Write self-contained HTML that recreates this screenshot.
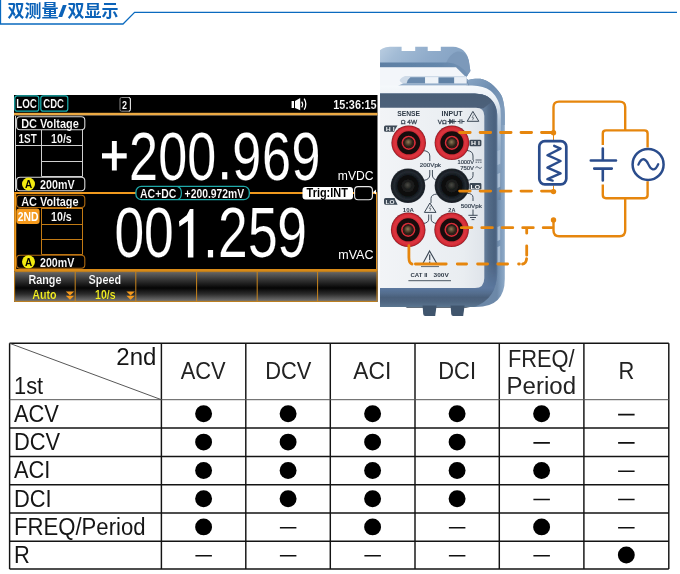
<!DOCTYPE html>
<html lang="zh">
<head>
<meta charset="utf-8">
<title>双测量/双显示</title>
<style>
html,body{margin:0;padding:0;background:#fff;}
body{width:680px;height:574px;position:relative;overflow:hidden;font-family:"Liberation Sans",sans-serif;}
svg text{font-family:"Liberation Sans",sans-serif;}
#top{position:absolute;left:0;top:0;will-change:transform;}
h1{position:absolute;left:8px;top:2px;margin:0;font-size:17px;line-height:20px;color:transparent;font-weight:bold;white-space:nowrap;width:110px;height:20px;overflow:hidden;}
</style>
</head>
<body>
<h1>双测量/双显示</h1>
<svg id="top" width="680" height="335" viewBox="0 0 680 335">
<!-- header -->
<g id="hdr">
<path d="M0.5 0 V24 H123 L134.6 12.4 H677" fill="none" stroke="#0a6abf" stroke-width="1.3"/>
<g fill="#0b62b8">
<text x="7.5" y="16.6" font-size="17" font-weight="bold" fill="#0b62b8" style="font-family:'Liberation Sans','Noto Sans CJK SC',sans-serif">双测量</text>
<text x="58" y="16.6" font-size="17" font-weight="bold" fill="#0b62b8" textLength="9" lengthAdjust="spacingAndGlyphs" style="font-family:'Liberation Sans','Noto Sans CJK SC',sans-serif">/</text>
<text x="67.5" y="16.6" font-size="17" font-weight="bold" fill="#0b62b8" style="font-family:'Liberation Sans','Noto Sans CJK SC',sans-serif">双显示</text>
</g>
</g>
<!-- LCD screen -->
<defs>
<linearGradient id="sk" x1="0" y1="0" x2="0" y2="1">
<stop offset="0" stop-color="#6a6a6a"/><stop offset="0.25" stop-color="#3a3a3a"/><stop offset="0.55" stop-color="#050505"/><stop offset="0.75" stop-color="#2c2c2c"/><stop offset="1" stop-color="#7a7a7a"/>
</linearGradient>
</defs>
<g id="lcd">
<rect x="14" y="95" width="363.5" height="207" fill="#000"/>
<!-- status bar -->
<rect x="14.8" y="95.8" width="24" height="15.4" rx="2.5" fill="none" stroke="#19b3b3" stroke-width="1.2"/>
<rect x="40.8" y="95.8" width="27" height="15.4" rx="2.5" fill="none" stroke="#19b3b3" stroke-width="1.2"/>
<text x="16.2" y="107.9" font-size="13" font-weight="bold" stroke="#000" stroke-width="0.12" fill="#fff" textLength="20.8" lengthAdjust="spacingAndGlyphs">LOC</text>
<text x="43.3" y="107.9" font-size="13" font-weight="bold" stroke="#000" stroke-width="0.12" fill="#fff" textLength="20.6" lengthAdjust="spacingAndGlyphs">CDC</text>
<rect x="120" y="97.5" width="10.4" height="13.7" rx="1.5" fill="none" stroke="#8a8a8a" stroke-width="1"/>
<path d="M128.6 97.6 Q130.4 97.6 130.4 99 V109.5 Q130.4 111.2 128.8 111.2" fill="none" stroke="#e8e8e8" stroke-width="1"/>
<text x="121.9" y="109.1" font-size="11" font-weight="bold" stroke="#000" stroke-width="0.12" fill="#fff" textLength="5" lengthAdjust="spacingAndGlyphs">2</text>
<!-- speaker -->
<g fill="#fff" stroke="none">
<path d="M291.6 100.9 H294 V107.9 H291.6 Z M295 100.9 L300.2 97.9 V110.2 L295 107.9 Z"/>
</g>
<path d="M301.7 101.6 Q303.6 104.4 301.7 107.4" fill="none" stroke="#fff" stroke-width="1.2"/>
<path d="M304.2 98.6 Q307.4 104.2 304.2 109.6" fill="none" stroke="#fff" stroke-width="1.3"/>
<text x="333.2" y="109.4" font-size="13" font-weight="bold" stroke="#000" stroke-width="0.12" fill="#fff" textLength="43.4" lengthAdjust="spacingAndGlyphs">15:36:15</text>
<!-- orange separator -->
<rect x="14" y="112.8" width="363.5" height="2.3" fill="#ecaa44"/><rect x="14" y="115" width="363.5" height="0.7" fill="#8a7458"/>
<!-- panel 1 -->
<rect x="16.6" y="116.8" width="68.2" height="12.9" rx="3.5" fill="none" stroke="#d8d8d8" stroke-width="1.1"/>
<text x="21.2" y="127.8" font-size="12.7" font-weight="bold" stroke="#000" stroke-width="0.12" fill="#fff" textLength="57.6" lengthAdjust="spacingAndGlyphs">DC Voltage</text>
<path d="M15.5 116 V191 M15.5 145.5 H82.5 M41.5 130 V176.5 M82.5 130 V176.5 M41.5 161.5 H82.5 M41.5 176.5 H82.5" fill="none" stroke="#d0d0d0" stroke-width="1"/>
<text x="18.6" y="142.7" font-size="12.7" font-weight="bold" stroke="#000" stroke-width="0.12" fill="#fff" textLength="18.2" lengthAdjust="spacingAndGlyphs">1ST</text>
<text x="51" y="142.7" font-size="12.7" font-weight="bold" stroke="#000" stroke-width="0.12" fill="#fff" textLength="20.8" lengthAdjust="spacingAndGlyphs">10/s</text>
<rect x="16.6" y="177.3" width="68.2" height="13.5" rx="3.5" fill="none" stroke="#d8d8d8" stroke-width="1.1"/>
<circle cx="28.5" cy="184" r="6.5" fill="#f2ea10"/>
<text x="24.9" y="188" font-size="10.5" font-weight="bold" fill="#000" textLength="7.2" lengthAdjust="spacingAndGlyphs">A</text>
<text x="40" y="188.6" font-size="12.6" font-weight="bold" stroke="#000" stroke-width="0.12" fill="#fff" textLength="34.6" lengthAdjust="spacingAndGlyphs">200mV</text>
<!-- big reading 1 -->
<path d="M102 153.2 H126.7 V158.4 H102 Z M111.9 141 H116.8 V170.6 H111.9 Z" fill="#fff"/>
<text transform="translate(129 179.5) scale(0.755 1)" font-size="69" fill="#fff" stroke="#000" stroke-width="0.15">2</text>
<text transform="translate(158.2 179.5) scale(0.755 1)" font-size="69" fill="#fff" stroke="#000" stroke-width="0.15">0</text>
<text transform="translate(187.2 179.5) scale(0.755 1)" font-size="69" fill="#fff" stroke="#000" stroke-width="0.15">0</text>
<text transform="translate(232.3 179.5) scale(0.755 1)" font-size="69" fill="#fff" stroke="#000" stroke-width="0.15">9</text>
<text transform="translate(262 179.5) scale(0.755 1)" font-size="69" fill="#fff" stroke="#000" stroke-width="0.15">6</text>
<text transform="translate(291.6 179.5) scale(0.755 1)" font-size="69" fill="#fff" stroke="#000" stroke-width="0.15">9</text>
<rect x="222.1" y="172.1" width="5.2" height="7.3" fill="#fff"/>
<text x="337.8" y="179.9" font-size="12.1" fill="#fff" textLength="35.7" lengthAdjust="spacingAndGlyphs">mVDC</text>
<!-- mid separator -->
<path d="M15.2 270 V193 H376.8" fill="none" stroke="#f09a1e" stroke-width="2.1"/>
<path d="M376.6 193 V270" fill="none" stroke="#e89a28" stroke-width="1.1"/>
<rect x="14" y="269" width="363.5" height="2" fill="#d88a18"/>
<rect x="135.9" y="186.4" width="113.4" height="13.3" rx="5.5" fill="#000" stroke="#1fa9a9" stroke-width="1.3"/>
<path d="M177.6 186.6 Q181.4 187.4 181.4 193 Q181.4 198.8 177.6 199.5" fill="none" stroke="#1fa9a9" stroke-width="1.2"/>
<text x="140" y="197.7" font-size="12.7" font-weight="bold" stroke="#000" stroke-width="0.12" fill="#fff" textLength="36.4" lengthAdjust="spacingAndGlyphs">AC+DC</text>
<text x="184.6" y="197.7" font-size="12.4" font-weight="bold" stroke="#000" stroke-width="0.12" fill="#fff" textLength="59.6" lengthAdjust="spacingAndGlyphs">+200.972mV</text>
<rect x="302.5" y="186.9" width="50.5" height="12.5" rx="3" fill="#fff"/>
<text x="306.6" y="197.2" font-size="12.6" font-weight="bold" fill="#000" textLength="41.2" lengthAdjust="spacingAndGlyphs">Trig:INT</text>
<rect x="354.6" y="186.6" width="17.8" height="13.2" rx="3.5" fill="#000" stroke="#e8e8e8" stroke-width="1.1"/>
<path d="M376 189.6 L373.2 192 L376 194.4 Z" fill="#fff"/>
<!-- panel 2 -->
<rect x="16.6" y="195.2" width="68.2" height="12.3" rx="3.5" fill="none" stroke="#b06a10" stroke-width="1.1"/>
<text x="21.2" y="206.4" font-size="12.7" font-weight="bold" stroke="#000" stroke-width="0.12" fill="#fff" textLength="57.4" lengthAdjust="spacingAndGlyphs">AC Voltage</text>
<path d="M41.5 208.5 H82.5 M41.5 224.5 H82.5 M41.5 208 V254.5 M82.5 208 V254.5 M41.5 239.5 H82.5 M41.5 254.5 H82.5" fill="none" stroke="#c27a14" stroke-width="1"/>
<rect x="16.4" y="208.6" width="23.2" height="15.4" rx="3" fill="#f59a1c"/>
<text x="17.7" y="220.5" font-size="12.7" font-weight="bold" fill="#fff" textLength="20.8" lengthAdjust="spacingAndGlyphs">2ND</text>
<text x="51" y="220.5" font-size="12.7" font-weight="bold" stroke="#000" stroke-width="0.12" fill="#fff" textLength="20.8" lengthAdjust="spacingAndGlyphs">10/s</text>
<rect x="16.6" y="255.3" width="68.2" height="13" rx="3.5" fill="none" stroke="#b06a10" stroke-width="1.1"/>
<circle cx="28.5" cy="261.8" r="6.5" fill="#f2ea10"/>
<text x="24.9" y="265.8" font-size="10.5" font-weight="bold" fill="#000" textLength="7.2" lengthAdjust="spacingAndGlyphs">A</text>
<text x="40" y="266.8" font-size="12.6" font-weight="bold" stroke="#000" stroke-width="0.12" fill="#fff" textLength="34.4" lengthAdjust="spacingAndGlyphs">200mV</text>
<!-- big reading 2 -->
<text transform="translate(114.4 257.4) scale(0.762 1)" font-size="70" fill="#fff" stroke="#000" stroke-width="0.15">0</text>
<text transform="translate(144.1 257.4) scale(0.762 1)" font-size="70" fill="#fff" stroke="#000" stroke-width="0.15">0</text>
<text transform="translate(218.0 257.4) scale(0.762 1)" font-size="70" fill="#fff" stroke="#000" stroke-width="0.15">2</text>
<text transform="translate(248.0 257.4) scale(0.762 1)" font-size="70" fill="#fff" stroke="#000" stroke-width="0.15">5</text>
<text transform="translate(277.2 257.4) scale(0.762 1)" font-size="70" fill="#fff" stroke="#000" stroke-width="0.15">9</text>
<rect x="207.9" y="250" width="5.2" height="7.4" fill="#fff"/>
<path d="M189.9 208.9 H193.4 V257.4 H187.9 V220.9 L179.4 226.8 L179 221.3 L186.7 215.3 Z" fill="#fff"/>
<text x="338.3" y="258.6" font-size="12.1" fill="#fff" textLength="35.2" lengthAdjust="spacingAndGlyphs">mVAC</text>
<!-- softkeys -->
<rect x="14" y="271.3" width="363.5" height="30.4" fill="url(#sk)"/>
<path d="M14.6 271.6 H377 V301.4 H14.6 Z M75.2 271.6 V301.4 M135.8 271.6 V301.4 M196.6 271.6 V301.4 M257.2 271.6 V301.4 M317.6 271.6 V301.4" fill="none" stroke="#c8841c" stroke-width="1"/>
<text x="28.4" y="283.5" font-size="12.6" font-weight="bold" stroke="#000" stroke-width="0.12" fill="#fff" textLength="33" lengthAdjust="spacingAndGlyphs">Range</text>
<text x="32.2" y="298.7" font-size="12.6" font-weight="bold" stroke="#000" stroke-width="0.12" fill="#f4f024" textLength="24.4" lengthAdjust="spacingAndGlyphs">Auto</text>
<text x="88.6" y="283.5" font-size="12.6" font-weight="bold" stroke="#000" stroke-width="0.12" fill="#fff" textLength="32.4" lengthAdjust="spacingAndGlyphs">Speed</text>
<text x="95" y="298.7" font-size="12.6" font-weight="bold" stroke="#000" stroke-width="0.12" fill="#f4f024" textLength="20.6" lengthAdjust="spacingAndGlyphs">10/s</text>
<g fill="#f59a1c">
<path d="M65.8 291.6 H74.2 L70 295.6 Z M65.8 295.8 H74.2 L70 299.8 Z"/>
<path d="M126.4 291.6 H134.8 L130.6 295.6 Z M126.4 295.8 H134.8 L130.6 299.8 Z"/>
</g>
</g>
<!-- device photo approximation -->
<defs>
<filter id="soft" x="-5%" y="-5%" width="110%" height="110%"><feGaussianBlur stdDeviation="0.55"/></filter>
<filter id="soft2" x="-20%" y="-20%" width="140%" height="140%"><feGaussianBlur stdDeviation="0.35"/></filter>
<linearGradient id="bezR" gradientUnits="userSpaceOnUse" x1="484" y1="0" x2="498" y2="0"><stop offset="0" stop-color="#667e9b"/><stop offset="0.35" stop-color="#536b88"/><stop offset="0.8" stop-color="#4a617e"/><stop offset="1" stop-color="#5f7b9a"/></linearGradient>
<linearGradient id="rearG" x1="0" y1="0" x2="1" y2="0.3"><stop offset="0" stop-color="#bccfe2"/><stop offset="0.25" stop-color="#a2bbd5"/><stop offset="0.6" stop-color="#8fabca"/><stop offset="1" stop-color="#83a1c2"/></linearGradient>
<linearGradient id="rearD" x1="0" y1="0" x2="1" y2="0"><stop offset="0" stop-color="#5d7fa3"/><stop offset="0.7" stop-color="#6587ab"/><stop offset="1" stop-color="#7493b5"/></linearGradient>
<linearGradient id="shG" gradientUnits="userSpaceOnUse" x1="497" y1="0" x2="505" y2="0"><stop offset="0" stop-color="#6c88a8"/><stop offset="0.5" stop-color="#7f9cbc"/><stop offset="1" stop-color="#90abc8"/></linearGradient>
<linearGradient id="hlG" gradientUnits="userSpaceOnUse" x1="0" y1="86" x2="0" y2="200"><stop offset="0" stop-color="#f5f8fb"/><stop offset="0.12" stop-color="#eaf0f6"/><stop offset="0.3" stop-color="#b7c8da"/><stop offset="0.6" stop-color="#8fa9c5"/><stop offset="1" stop-color="#6a85a3"/></linearGradient>
<linearGradient id="shT" gradientUnits="userSpaceOnUse" x1="470" y1="78" x2="500" y2="110"><stop offset="0" stop-color="#86a3c2"/><stop offset="0.5" stop-color="#6d8db0"/><stop offset="1" stop-color="#7f9cbc"/></linearGradient>
<linearGradient id="bezT" x1="0" y1="0" x2="0" y2="1"><stop offset="0" stop-color="#4a5e77"/><stop offset="1" stop-color="#4d617a"/></linearGradient>
<linearGradient id="bezB" gradientUnits="userSpaceOnUse" x1="0" y1="288" x2="0" y2="307"><stop offset="0" stop-color="#5c789f"/><stop offset="0.3" stop-color="#536c8c"/><stop offset="0.5" stop-color="#4a5f7a"/><stop offset="0.75" stop-color="#4f6681"/><stop offset="1" stop-color="#5b7691"/></linearGradient>
<linearGradient id="panelG" x1="0" y1="0" x2="1" y2="0"><stop offset="0" stop-color="#f2f4f7"/><stop offset="0.8" stop-color="#e9edf1"/><stop offset="1" stop-color="#dfe4ea"/></linearGradient>
<radialGradient id="redT" cx="0.5" cy="0.5" r="0.5"><stop offset="0.62" stop-color="#c2222c"/><stop offset="0.78" stop-color="#dc3640"/><stop offset="0.9" stop-color="#d42c36"/><stop offset="0.96" stop-color="#b01e28"/><stop offset="1" stop-color="#6e1820"/></radialGradient>
<radialGradient id="blkT" cx="0.5" cy="0.5" r="0.5"><stop offset="0.6" stop-color="#10151a"/><stop offset="0.8" stop-color="#232a31"/><stop offset="0.93" stop-color="#181d23"/><stop offset="1" stop-color="#2c333b"/></radialGradient>
<radialGradient id="pinB" cx="0.45" cy="0.4" r="0.6"><stop offset="0" stop-color="#4a4a44"/><stop offset="0.6" stop-color="#2c2d2a"/><stop offset="1" stop-color="#17191a"/></radialGradient>
<radialGradient id="brass" cx="0.45" cy="0.4" r="0.6"><stop offset="0" stop-color="#8e7a58"/><stop offset="0.5" stop-color="#5a4832"/><stop offset="1" stop-color="#2a1e14"/></radialGradient>
<linearGradient id="cmG" gradientUnits="userSpaceOnUse" x1="0" y1="262" x2="0" y2="290"><stop offset="0" stop-color="#000"/><stop offset="1" stop-color="#fff"/></linearGradient>
<mask id="cornerM" maskUnits="userSpaceOnUse" x="370" y="255" width="140" height="60"><rect x="370" y="255" width="140" height="60" fill="url(#cmG)"/></mask>
<clipPath id="devclip"><rect x="380" y="30" width="140" height="295"/></clipPath>
</defs>
<g id="device" clip-path="url(#devclip)">
<g filter="url(#soft)">
<!-- rear bumper -->
<path d="M378 53 Q381 47 390 46.8 H401.6 V51 H415.2 V46.8 H427.7 V51 H440.8 V46.8 H453 Q466 47.5 468.8 60.6 L470.4 71 L466 77.5 H378 Z" fill="url(#rearG)"/>
<path d="M446 63 Q450 54 457 51.6 Q466 50.4 468.8 60.6 L470.4 71 L466 77.5 L456 67.3 Z" fill="#7c99ba"/>
<path d="M378 62.6 H448 Q460 63.5 468 74.5 L466 77.5 L456 67.3 H378 Z" fill="url(#rearD)"/>
<!-- front body outer shoulder -->
<path d="M378 67.3 H456 L466 77.5 L468 80 C472 78.8 476 78.6 480.4 78.8 C488 80 495 86 500.9 94.4 C503 98 504.6 105 504.8 114 V279 Q504.8 307 476 307 H378 Z" fill="url(#shG)"/>
<path d="M466 77.5 L468 80 C472 78.8 476 78.6 480.4 78.8 C488 80 495 86 500.9 94.4 C503 98 504.6 105 504.8 114 V125 H497 V100 L470 88 Z" fill="url(#shT)"/>
<!-- top surface light -->
<path d="M378 67.3 H456 L466.4 77.4 V86 H378 Z" fill="#f3f6fa"/>
<!-- recess -->
<path d="M405 76 H466.4 V84 H404 Q398.5 81.6 400 79.6 Q401.5 77 405 76 Z" fill="#cfdbe8"/>
<path d="M410.4 77.2 H425.1 V83.6 H406.5 Q407.4 79.2 410.4 77.2 Z" fill="#6a8aad"/>
<rect x="425.1" y="77.2" width="13.4" height="6.4" fill="#eef3f8"/>
<rect x="438.5" y="77.4" width="15.8" height="6.2" fill="#6082a6"/>
<rect x="454.3" y="77.2" width="12" height="6.4" fill="#e9eff6"/>
<path d="M403 83.5 H468 V85.7 H398 Z" fill="#93adc9"/>
<!-- white highlight band -->
<path d="M378 85.6 H472 C480 86 486 87.6 490.5 90.8 C495 94.4 499 100.4 500.4 108.4 L500.8 116 V200 H497.2 V114 C496.6 108 495 104.6 493 101.8 C490 98 487 96 485.3 95.4 C481 93.8 476 93.7 470 93.7 H378 Z" fill="url(#hlG)"/>
<!-- dark bezel -->
<path d="M378 93.6 H470 C477 93.6 482 94.2 485.3 95.4 C490 97.5 494 101 496 107.6 C497 110.6 497.3 114 497.3 116 V272 Q497.2 299 470 306.9 H378 Z" fill="url(#bezR)"/>
<path d="M378 93.6 H470 C477 93.6 482 94.2 485.3 95.4 C489 97 491 99 492.6 101.2 L483.5 108.3 H378 Z" fill="url(#bezT)"/>
<path d="M378 287.6 H474 Q484 287.6 484.3 276 V262 H497.3 V272 Q497.2 299 474 306.9 H378 Z" fill="url(#bezB)" mask="url(#cornerM)"/>
<path d="M405.6 306.9 H470 L466 307.8 H407 Z" fill="#2f3f50"/>
<!-- feet -->
<path d="M422.6 305.6 H436.6 L435.2 316 H425.2 Q423.4 316 423.2 314 Z" fill="#40556d"/>
<path d="M450.6 305.6 H464.6 L463.2 316 H453.2 Q451.4 316 451.2 314 Z" fill="#40556d"/>
<!-- panel -->
<path d="M378 107.7 H476 Q484.3 107.7 484.3 116 V278 Q484.3 288 475 288 H378 Z" fill="url(#panelG)"/>
<!-- side notches -->
<path d="M497.6 151 l2.6 -1.2 v14 l-2.6 1.2 Z M497.6 174 l2.6 -1.2 v14 l-2.6 1.2 Z M497.6 227 l2.6 -1.2 v14 l-2.6 1.2 Z M497.6 247 l2.6 -1.2 v16 l-2.6 1.2 Z" fill="#a9bdd3"/>
</g>
</g>
<g id="terminals" clip-path="url(#devclip)">
<g filter="url(#soft2)">
<g fill="none" stroke="#3f4a58" stroke-width="1">
<path d="M423 150.5 Q429.8 151 429.8 156 V161"/>
<path d="M429.8 170 V175 Q429.8 179.5 423.5 180.5"/>
<path d="M432.4 170 V175 Q432.4 179.5 438 180.5"/>
<path d="M467 150.5 Q473 151 473 156 V160"/>
<path d="M473 172 V175.5 Q473 179.5 467 180.5"/>
<path d="M467 193.2 Q473 193.5 473 197.5 V201"/>
<path d="M437 194 Q431 194.5 431 198.5 V203"/>
<path d="M428.7 214.5 V219 Q428.7 223 423 223.5"/>
<path d="M431.2 214.5 V219 Q431.2 223 437 223.5"/>
<path d="M473 209.5 V215.3 M468.4 215.3 H477.6 M470 217.5 H476 M471.6 219.6 H474.4"/>
</g>
<circle cx="408.7" cy="142.8" r="17.3" fill="url(#redT)"/>
<circle cx="408.7" cy="142.8" r="11.5" fill="#150c0e"/>
<circle cx="408.7" cy="142.8" r="6.3" fill="none" stroke="#d62e38" stroke-width="1.7"/>
<circle cx="408.7" cy="142.8" r="5.4" fill="#2e211b"/>
<circle cx="408.7" cy="142.8" r="3.9" fill="url(#brass)"/>
<circle cx="451.9" cy="142.8" r="17.3" fill="url(#redT)"/>
<circle cx="451.9" cy="142.8" r="11.5" fill="#150c0e"/>
<circle cx="451.9" cy="142.8" r="6.3" fill="none" stroke="#d62e38" stroke-width="1.7"/>
<circle cx="451.9" cy="142.8" r="5.4" fill="#2e211b"/>
<circle cx="451.9" cy="142.8" r="3.9" fill="url(#brass)"/>
<circle cx="408" cy="185.8" r="17.3" fill="url(#blkT)"/>
<circle cx="408" cy="185.8" r="10.5" fill="#0b0b0b"/>
<circle cx="408" cy="185.8" r="6.6" fill="#1a1c1c"/>
<circle cx="408" cy="185.8" r="3.9" fill="url(#pinB)"/>
<circle cx="451.9" cy="185.8" r="17.3" fill="url(#blkT)"/>
<circle cx="451.9" cy="185.8" r="10.5" fill="#0b0b0b"/>
<circle cx="451.9" cy="185.8" r="6.6" fill="#1a1c1c"/>
<circle cx="451.9" cy="185.8" r="3.9" fill="url(#pinB)"/>
<circle cx="408.2" cy="229.8" r="17.3" fill="url(#redT)"/>
<circle cx="408.2" cy="229.8" r="11.5" fill="#150c0e"/>
<circle cx="408.2" cy="229.8" r="6.3" fill="none" stroke="#d62e38" stroke-width="1.7"/>
<circle cx="408.2" cy="229.8" r="5.4" fill="#2e211b"/>
<circle cx="408.2" cy="229.8" r="3.9" fill="url(#brass)"/>
<circle cx="451.6" cy="229.8" r="17.3" fill="url(#redT)"/>
<circle cx="451.6" cy="229.8" r="11.5" fill="#150c0e"/>
<circle cx="451.6" cy="229.8" r="6.3" fill="none" stroke="#d62e38" stroke-width="1.7"/>
<circle cx="451.6" cy="229.8" r="5.4" fill="#2e211b"/>
<circle cx="451.6" cy="229.8" r="3.9" fill="url(#brass)"/>
<path d="M385.6 125.6 H397.5 Q395.5 128.5 394.2 131.8 H385.6 Q384 131.8 384 130.2 V127.2 Q384 125.6 385.6 125.6 Z" fill="#3d4956"/>
<rect x="469.4" y="139.7" width="12" height="6.6" rx="1.4" fill="#3d4956"/>
<rect x="469.4" y="183" width="12" height="6.6" rx="1.4" fill="#3d4956"/>
<path d="M385.6 197.9 H394.6 Q395.6 201.4 397.6 204.7 H385.6 Q384 204.7 384 203.1 V199.5 Q384 197.9 385.6 197.9 Z" fill="#3d4956"/>
</g>
<text x="397.2" y="115.9" font-size="6.9" font-weight="bold" fill="#2f3a47" textLength="22.9" lengthAdjust="spacingAndGlyphs">SENSE</text>
<text x="441.6" y="115.9" font-size="6.9" font-weight="bold" fill="#2f3a47" textLength="20.9" lengthAdjust="spacingAndGlyphs">INPUT</text>
<text x="400.7" y="123.8" font-size="6.2" fill="#3a4654" textLength="16.3" lengthAdjust="spacingAndGlyphs" stroke="#3a4654" stroke-width="0.3">&#937; 4W</text>
<text x="437.8" y="123.8" font-size="6.2" fill="#3a4654" textLength="9" lengthAdjust="spacingAndGlyphs" stroke="#3a4654" stroke-width="0.3">V&#937;</text>
<text x="385.8" y="130.8" font-size="5.6" font-weight="bold" fill="#e8ecf0" textLength="8.8" lengthAdjust="spacingAndGlyphs">H I</text>
<text x="471" y="145.2" font-size="5.4" font-weight="bold" fill="#fff" textLength="8.8" lengthAdjust="spacingAndGlyphs">H I</text>
<text x="470.6" y="188.5" font-size="5.4" font-weight="bold" fill="#fff" textLength="9.6" lengthAdjust="spacingAndGlyphs">LO</text>
<text x="385.6" y="203.7" font-size="5.6" font-weight="bold" fill="#e8ecf0" textLength="9" lengthAdjust="spacingAndGlyphs">LO</text>
<text x="419.8" y="167.4" font-size="6.2" fill="#3a4654" textLength="21.2" lengthAdjust="spacingAndGlyphs" stroke="#3a4654" stroke-width="0.22">200Vpk</text>
<text x="457.5" y="163.9" font-size="6.2" fill="#3a4654" textLength="16.5" lengthAdjust="spacingAndGlyphs" stroke="#3a4654" stroke-width="0.22">1000V</text>
<text x="460.3" y="169.7" font-size="6.2" fill="#3a4654" textLength="13.7" lengthAdjust="spacingAndGlyphs" stroke="#3a4654" stroke-width="0.22">750V</text>
<text x="460.7" y="208.2" font-size="6.2" fill="#3a4654" textLength="21.2" lengthAdjust="spacingAndGlyphs" stroke="#3a4654" stroke-width="0.22">500Vpk</text>
<text x="402.8" y="211.8" font-size="6.2" font-weight="bold" fill="#2f3a47" textLength="11.2" lengthAdjust="spacingAndGlyphs">10A</text>
<text x="448.3" y="211.8" font-size="6.2" font-weight="bold" fill="#2f3a47" textLength="7.1" lengthAdjust="spacingAndGlyphs">2A</text>
<text x="410.5" y="277" font-size="6.1" font-weight="bold" fill="#2f3a47" textLength="17" lengthAdjust="spacingAndGlyphs">CAT II</text>
<text x="433.6" y="277" font-size="6.1" font-weight="bold" fill="#2f3a47" textLength="15.2" lengthAdjust="spacingAndGlyphs">300V</text>
<g fill="none" stroke="#3a4654" stroke-width="0.85">
<path d="M447.6 121.5 H456.4 M449.6 119.3 V123.7 L452.4 121.5 Z M452.6 119.3 V123.7 M454 119.3 V123.7" stroke-width="1" fill="#3a4654"/>
<path d="M457.6 121.5 H460 M460 119.3 V123.7 M461.9 119.3 V123.7 M461.9 121.5 H464.6" stroke-width="1"/>
<path d="M475.5 160 H481.6 M475.5 162.2 H477 M477.8 162.2 H479.3 M480.1 162.2 H481.6"/>
<path d="M475.4 167.8 Q477 165.6 478.5 167.6 T481.7 167.2"/>
<path d="M472.9 111.4 L478.8 121.3 H467.2 Z" stroke-width="1"/>
<path d="M473.6 114.5 L472 117.8 H473.8 L472.4 120.2" stroke-width="0.6"/>
<path d="M429.9 203 L436 212.4 H424.4 Z" stroke-width="1" fill="#eef1f4"/>
<path d="M430.8 205.6 L429.2 208.6 H431 L429.8 211" stroke-width="0.6"/>
<path d="M429.6 251 L437 264 H422.6 Z" stroke-width="1.1" fill="#eef1f4"/>
<path d="M429.7 254.6 V260.2 M429.7 261.4 V262.9" stroke-width="1.2"/>
<path d="M421 266.6 H439" stroke-width="0.8"/>
<path d="M408.4 280.7 H451" stroke-width="0.9"/>
</g>
</g>
<!-- circuit diagram -->
<g id="circuit" fill="none" stroke-linecap="butt">
<g stroke="#e6860d" stroke-width="2.8" stroke-linecap="round">
<!-- dashed leads -->
<path d="M459.6 132.5 H470.2 M480.1 132.5 H490.7 M500.5 132.5 H511.1 M521.0 132.5 H531.6 M541.5 132.5 H553.6 "/>
<path d="M459.6 191.1 H470.2 M480.1 191.1 H490.7 M500.5 191.1 H511.1 M521.0 191.1 H531.6 M541.5 191.1 H553.6 "/>
<path d="M461.3 227.7 H471.9 M481.8 227.7 H492.4 M502.2 227.7 H512.8 M522.7 227.7 H533.3 M543.2 227.7 H552.0 "/>
<path d="M526.7 228.5 V233.2 M526.7 245.8 V255.2 M526.6 258.6 Q526.2 263.6 522.6 264 M518.6 264 H519.4 M497.8 264 H507.6 M477.6 264 H487.6 M457.3 264 H466.6 M415.4 264 H446.2 M408.9 245.6 V257.6 Q409 263.6 412 264"/>
</g>
<g stroke="#e6860d" stroke-width="2.4" stroke-linejoin="round">
<path d="M553.5 133 V107 Q553.5 101.6 559 101.6 H619.6 Q625.2 101.6 625.2 107 V130.4"/>
<path d="M602.8 145 V133.4 Q602.8 130.4 606 130.4 H644.4 Q647.6 130.4 647.6 133.4 V147.6"/>
<path d="M602.8 184.4 V195 Q602.8 198.2 606 198.2 H644.4 Q647.6 198.2 647.6 195 V181.2"/>
<path d="M625.2 198.2 V230.6 Q625.2 236.2 619.6 236.2 H559 Q553.5 236.2 553.5 230.6 V220"/>
</g>
<path d="M553.5 134 V140 M553.5 185.5 V191" stroke="#e6860d" stroke-width="1"/>
<g fill="#e6860d" stroke="none">
<circle cx="553.5" cy="132.8" r="2.7"/><circle cx="553.5" cy="191.6" r="2.7"/><circle cx="553.5" cy="220" r="2.7"/>
</g>
<g stroke="#2a4c8c" stroke-width="2.6" stroke-linecap="round" stroke-linejoin="round">
<rect x="539.3" y="141.1" width="27" height="43.2" rx="5.5" fill="#fff" stroke-width="2.7"/>
<path d="M554.2 145.8 L560.6 148.6 L547.4 155.2 L560.6 161 L547.4 167.6 L560.6 173.4 L547.4 179.2 L552.6 180.6" stroke-width="2.4"/>
<path d="M602.8 148.5 V160.5 M590.8 160.5 H616 M594.2 168.6 H611.8 M602.8 168.6 V180.4"/>
<circle cx="648.1" cy="164.4" r="15.5" fill="#fff" stroke-width="2.5"/>
<path d="M638.4 164.6 Q641 158.4 644.2 159.4 Q646.6 160.2 648.4 164.4 Q650.4 168.8 652.8 169.4 Q655.6 170 658.2 164.2" stroke-width="2.3"/>
</g>
</g>
</svg>
<style>
#tbl{position:absolute;left:0;top:0;width:680px;height:574px;font-size:23px;color:#151515;}
#tbl div{position:absolute;white-space:nowrap;line-height:26px;height:26px;transform:scaleX(0.95);transform-origin:0 0;}
#tbl .h{text-align:center;transform-origin:50% 0;color:#222;}
#tbl .r{text-align:right;transform-origin:100% 0;}
#tbl .d{width:17px;height:17px;border-radius:50%;background:#000;transform:none;}
#tbl .m{width:16.5px;height:1.6px;background:#111;transform:none;}
#grid{position:absolute;left:0;top:335px;}
</style>

<div id="tbl">
<div class="r" style="left:80px;width:76.4px;top:344.03px;transform:scaleX(1.045)">2nd</div>
<div style="left:14px;top:372.83px">1st</div>
<div class="h" style="left:161.4px;width:84.4px;top:358.13px">ACV</div>
<div class="h" style="left:245.8px;width:84.5px;top:358.13px">DCV</div>
<div class="h" style="left:330.3px;width:84.7px;top:358.13px;transform:scaleX(0.99)">ACI</div>
<div class="h" style="left:415px;width:84.3px;top:358.13px">DCI</div>
<div class="h" style="left:499.3px;width:84.6px;top:345.83px">FREQ/</div>
<div class="h" style="left:499.3px;width:84.6px;top:372.83px;transform:scaleX(1.045)">Period</div>
<div class="h" style="left:583.9px;width:84.9px;top:358.13px">R</div>
<div style="left:14.1px;top:400.73px">ACV</div>
<div style="left:14.1px;top:429.23px">DCV</div>
<div style="left:14.1px;top:457.43px">ACI</div>
<div style="left:14.1px;top:485.63px">DCI</div>
<div style="left:14.1px;top:513.93px;transform:scaleX(0.962)">FREQ/Period</div>
<div style="left:14.1px;top:541.73px">R</div>
</div>
<svg id="grid" width="680" height="239" viewBox="0 335 680 239">
<g fill="none" stroke="#141414" stroke-width="1.45">
<path d="M9.6 343.3 V569 M161.4 343.3 V569 M245.8 343.3 V569 M330.3 343.3 V569 M415 343.3 V569 M499.3 343.3 V569 M583.9 343.3 V569 M668.8 343.3 V569 M9.6 343.3 H668.8 M9.6 428 H668.8 M9.6 456.5 H668.8 M9.6 484.7 H668.8 M9.6 512.9 H668.8 M9.6 541.2 H668.8 M9.6 569 H668.8 "/>
<path d="M9.6 399.7 H668.8" stroke-width="1" stroke="#555"/>
<path d="M9.6 343.3 L161.4 399.7" stroke-width="0.9" stroke="#444"/>
</g>
<g fill="#000" stroke="none"><circle cx="203.6" cy="413.8" r="8.45"/><circle cx="288.1" cy="413.8" r="8.45"/><circle cx="372.6" cy="413.8" r="8.45"/><circle cx="457.1" cy="413.8" r="8.45"/><circle cx="541.6" cy="413.8" r="8.45"/><circle cx="203.6" cy="442.1" r="8.45"/><circle cx="288.1" cy="442.1" r="8.45"/><circle cx="372.6" cy="442.1" r="8.45"/><circle cx="457.1" cy="442.1" r="8.45"/><circle cx="203.6" cy="470.5" r="8.45"/><circle cx="288.1" cy="470.5" r="8.45"/><circle cx="372.6" cy="470.5" r="8.45"/><circle cx="457.1" cy="470.5" r="8.45"/><circle cx="541.6" cy="470.5" r="8.45"/><circle cx="203.6" cy="498.7" r="8.45"/><circle cx="288.1" cy="498.7" r="8.45"/><circle cx="372.6" cy="498.7" r="8.45"/><circle cx="457.1" cy="498.7" r="8.45"/><circle cx="203.6" cy="526.9" r="8.45"/><circle cx="372.6" cy="526.9" r="8.45"/><circle cx="541.6" cy="526.9" r="8.45"/><circle cx="626.3" cy="555.0" r="8.45"/></g>
<path d="M618.1 414.6 h16.5 M533.4 442.9 h16.5 M618.1 442.9 h16.5 M618.1 471.3 h16.5 M533.4 499.5 h16.5 M618.1 499.5 h16.5 M279.9 527.8 h16.5 M448.9 527.8 h16.5 M618.1 527.8 h16.5 M195.4 555.8 h16.5 M279.9 555.8 h16.5 M364.4 555.8 h16.5 M448.9 555.8 h16.5 M533.4 555.8 h16.5 " fill="none" stroke="#111" stroke-width="1.6"/>
</svg>
</body>
</html>
